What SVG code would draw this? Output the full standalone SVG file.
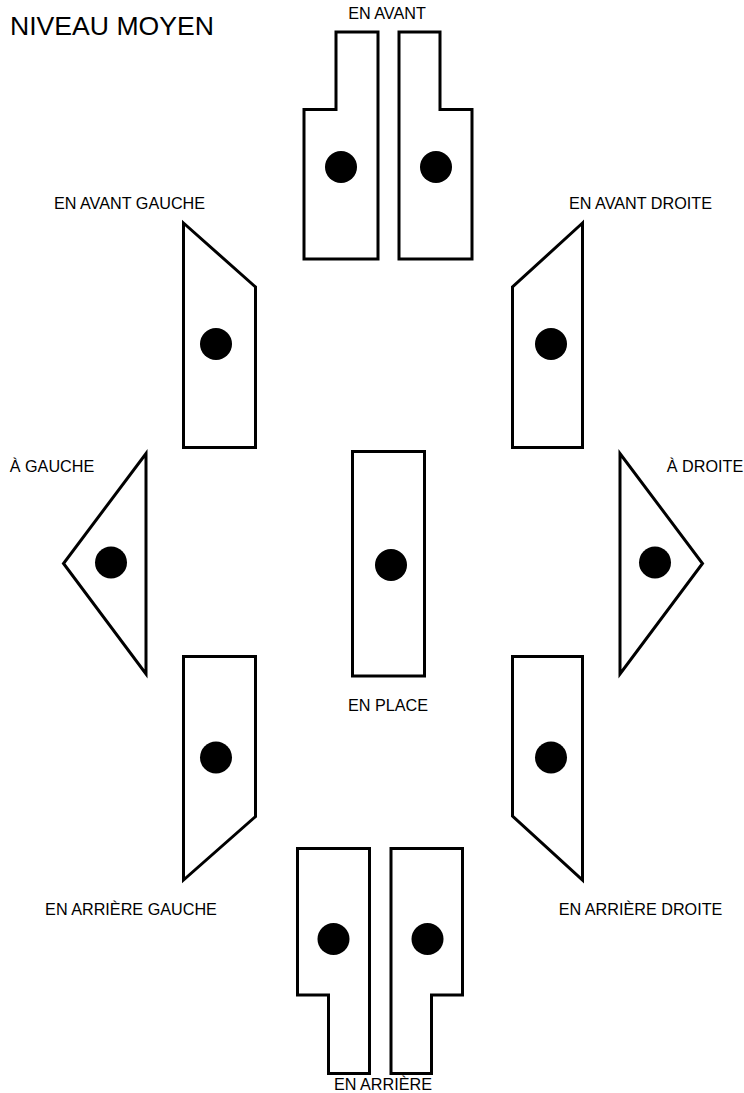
<svg xmlns="http://www.w3.org/2000/svg" width="744" height="1093" viewBox="0 0 744 1093">
<style>
.s{fill:#fff;stroke:#000;stroke-width:3;stroke-linejoin:miter}
.d{fill:#000}
.t{font-family:"Liberation Sans",Arial,sans-serif;font-size:16.2px;fill:#000;text-anchor:middle}
.h{font-family:"Liberation Sans",Arial,sans-serif;font-size:26.6px;fill:#000}
</style>
<rect width="744" height="1093" fill="#fff"/>
<text class="h" x="10" y="35">NIVEAU MOYEN</text>
<g id="en-avant">
<polygon class="s" points="336,32 378,32 378,259 304,259 304,109.5 336,109.5"/>
<polygon class="s" points="399,32 440,32 440,109.5 472,109.5 472,259 399,259"/>
<circle class="d" cx="341" cy="167" r="16"/>
<circle class="d" cx="436" cy="167" r="16"/>
<text class="t" x="387" y="19">EN AVANT</text>
</g>
<g id="en-avant-gauche">
<polygon class="s" points="183.5,223 255.5,287 255.5,447.5 183.5,447.5"/>
<circle class="d" cx="216" cy="344" r="16"/>
<text class="t" x="129.5" y="209">EN AVANT GAUCHE</text>
</g>
<g id="en-avant-droite">
<polygon class="s" points="582.5,223 512.5,287 512.5,447.5 582.5,447.5"/>
<circle class="d" cx="551" cy="344" r="16"/>
<text class="t" x="640.5" y="209">EN AVANT DROITE</text>
</g>
<g id="a-gauche">
<polygon class="s" points="146,453.5 146,674 63.5,563.5"/>
<circle class="d" cx="111" cy="562.5" r="16"/>
<text class="t" x="52" y="472">À GAUCHE</text>
</g>
<g id="a-droite">
<polygon class="s" points="620,453.5 620,674 702.5,563.5"/>
<circle class="d" cx="655" cy="562.5" r="16"/>
<text class="t" x="705" y="472">À DROITE</text>
</g>
<g id="en-place">
<rect class="s" x="352.5" y="451.5" width="72" height="224.5"/>
<circle class="d" cx="391" cy="565" r="16"/>
<text class="t" x="388" y="711">EN PLACE</text>
</g>
<g id="en-arriere-gauche">
<polygon class="s" points="183.5,656.5 255.5,656.5 255.5,816.5 183.5,880"/>
<circle class="d" cx="216" cy="757.5" r="16"/>
<text class="t" x="131" y="915">EN ARRIÈRE GAUCHE</text>
</g>
<g id="en-arriere-droite">
<polygon class="s" points="512.5,656.5 582.5,656.5 582.5,880 512.5,816"/>
<circle class="d" cx="551" cy="757.5" r="16"/>
<text class="t" x="640.5" y="915">EN ARRIÈRE DROITE</text>
</g>
<g id="en-arriere">
<polygon class="s" points="297.5,848.5 369.5,848.5 369.5,1073.5 328.5,1073.5 328.5,995 297.5,995"/>
<polygon class="s" points="391,848.5 462.5,848.5 462.5,995 431.5,995 431.5,1073.5 391,1073.5"/>
<circle class="d" cx="333.5" cy="939" r="16"/>
<circle class="d" cx="427.5" cy="939" r="16"/>
<text class="t" x="383" y="1090">EN ARRIÈRE</text>
</g>
<g id="connectors"/>
</svg>
